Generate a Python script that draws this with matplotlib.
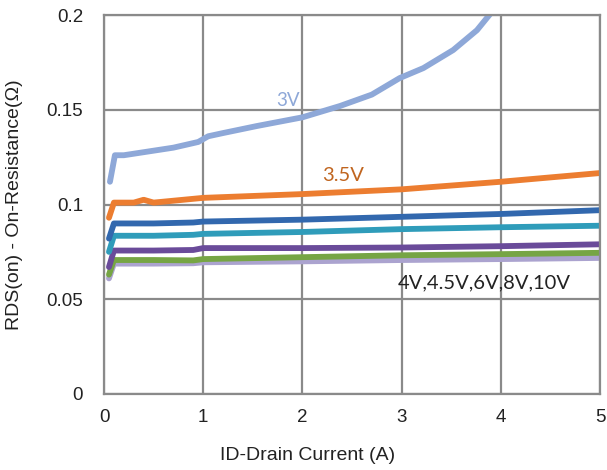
import numpy as np
import matplotlib.pyplot as plt

# drain current (A) sample points
id_3v = [0.06, 0.11, 0.2, 0.7, 0.95, 1.05, 1.2, 1.54, 2.0, 2.38, 2.7, 2.98, 3.22, 3.52, 3.76, 3.9]
rds_3v = [0.112, 0.126, 0.126, 0.130, 0.133, 0.136, 0.1377, 0.1414, 0.146, 0.152, 0.158, 0.1667, 0.172, 0.1815, 0.192, 0.201]

id_35v = [0.05, 0.1, 0.3, 0.4, 0.5, 1.0, 2.0, 3.0, 4.0, 5.0]
rds_35v = [0.093, 0.101, 0.101, 0.1025, 0.101, 0.1035, 0.1055, 0.108, 0.112, 0.1166]

id_low = [0.05, 0.1, 0.5, 0.9, 1.0, 2.0, 3.0, 4.0, 5.0]
rds_4v = [0.082, 0.090, 0.090, 0.0905, 0.091, 0.092, 0.0935, 0.095, 0.097]
rds_45v = [0.075, 0.0835, 0.0835, 0.084, 0.0845, 0.0855, 0.087, 0.088, 0.0888]
rds_6v = [0.067, 0.0757, 0.0757, 0.076, 0.077, 0.077, 0.0773, 0.078, 0.079]
rds_8v = [0.063, 0.0707, 0.0707, 0.0705, 0.0712, 0.0722, 0.0732, 0.0738, 0.0745]
rds_10v = [0.061, 0.0688, 0.0688, 0.069, 0.0695, 0.070, 0.0707, 0.0712, 0.0718]

xticks = [0, 1, 2, 3, 4, 5]
yticks = [0, 0.05, 0.1, 0.15, 0.2]
yticklabels = ['0', '0.05', '0.1', '0.15', '0.2']

fig = plt.figure(figsize=(6.07, 4.70), dpi=100)
ax = fig.add_axes([104 / 607, 1 - 394 / 470, 496 / 607, 379 / 470])

lw = 4.2
ax.plot(id_low, rds_10v, color='#aba3cf', lw=lw, solid_capstyle='round')
ax.plot(id_low, rds_8v, color='#76a544', lw=lw, solid_capstyle='round')
ax.plot(id_low, rds_6v, color='#6a4b9a', lw=lw, solid_capstyle='round')
ax.plot(id_low, rds_45v, color='#2f9cba', lw=lw, solid_capstyle='round')
ax.plot(id_low, rds_4v, color='#3268ae', lw=lw, solid_capstyle='round')
ax.plot(id_35v, rds_35v, color='#ec7d30', lw=lw, solid_capstyle='round')
ax.plot(id_3v, rds_3v, color='#8ea8d8', lw=lw, solid_capstyle='round')

ax.set_xlim(0, 5)
ax.set_ylim(0, 0.2)
ax.set_xticks(xticks)
ax.set_yticks(yticks)
ax.set_yticklabels(yticklabels)
ax.grid(True, color='#8a8a8a', lw=1.6)
ax.set_axisbelow(True)
for s in ax.spines.values():
  s.set_color('#8a8a8a')
  s.set_linewidth(1.6)
ax.tick_params(length=0, labelsize=13.5, labelcolor='#222222')
ax.tick_params(axis='y', pad=15)
ax.tick_params(axis='x', pad=11)
for lab in ax.get_xticklabels() + ax.get_yticklabels():
  lab.set_fontfamily('Liberation Sans')

ax.set_xlabel('ID-Drain Current (A)', fontsize=14, family='Liberation Sans', color='#222222')
ax.xaxis.set_label_coords(0.411, -0.14)
ax.set_ylabel('RDS(on) - On-Resistance(Ω)', fontsize=14, family='Liberation Sans', color='#222222')
ax.yaxis.set_label_coords(-0.163, 0.5)

ax.text(1.74, 0.155, '3V', color='#8ea8d8', fontsize=13.5, family='Lato', va='center')
ax.text(2.20, 0.1155, '3.5V', color='#c0651f', fontsize=14.5, family='Lato', va='center')
ax.text(2.96, 0.0585, '4V,4.5V,6V,8V,10V', color='#222222', fontsize=14.5, family='Lato', va='center')

fig.savefig('out.png', dpi=100)
